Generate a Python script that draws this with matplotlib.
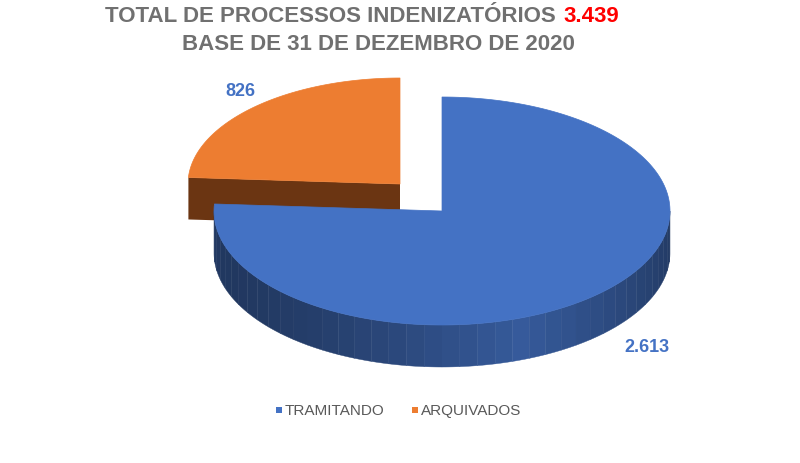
import numpy as np
import matplotlib.pyplot as plt
from matplotlib.patches import Polygon
from matplotlib.colors import to_rgb

plt.rcParams['font.family'] = ['Liberation Sans', 'DejaVu Sans']

categories = ["TRAMITANDO", "ARQUIVADOS"]
values = [2613, 826]
value_labels = ["2.613", "826"]
total_label = "3.439"

top_colors = ["#4472C4", "#ED7D31"]
side_colors = ["#2A4D8F", "#6B3512"]

fig = plt.figure(figsize=(8, 4.64), dpi=100)
ax = fig.add_axes([0, 0, 1, 1])
ax.set_xlim(0, 800)
ax.set_ylim(464, 0)
ax.axis("off")

depth = 42
total = sum(values)
orange_span = 360 * values[1] / total


def pt(c, rx, ry, t, dy=0):
    r = np.radians(t)
    return (c[0] + rx * np.cos(r), c[1] - ry * np.sin(r) + dy)


def wedge(c, rx, ry, t0, t1, top, side, radial_faces):
    for t in radial_faces:
        p = pt(c, rx, ry, t)
        ax.add_patch(Polygon([c, p, (p[0], p[1] + depth), (c[0], c[1] + depth)],
                             closed=True, fc=side, ec="none"))
    a0, a1 = max(t0, 180), min(t1, 360)
    if a1 > a0:
        n = 40
        for i in range(n):
            s0 = a0 + (a1 - a0) * i / n
            s1 = a0 + (a1 - a0) * (i + 1) / n
            ss = np.linspace(s0, s1, 6)
            shade = 0.35 + 0.5 * abs(np.cos(np.radians((s0 + s1) / 2 - 200)))
            col = np.array(to_rgb(top)) * (1 - shade * 0.6)
            poly = [pt(c, rx, ry, t) for t in ss] + [pt(c, rx, ry, t, depth) for t in ss[::-1]]
            ax.add_patch(Polygon(poly, closed=True, fc=col, ec=col, lw=0.3))
    ts = np.linspace(t0, t1, 200)
    ax.add_patch(Polygon([c] + [pt(c, rx, ry, t) for t in ts], closed=True, fc=top,
                         ec=top, lw=0.5))


# orange slice (exploded up-left)
wedge((400, 185), 212, 106, 90, 90 + orange_span, top_colors[1], side_colors[1],
      [90 + orange_span])
# blue slice (exploded down-right)
wedge((442, 212), 228, 114, 90 + orange_span, 450, top_colors[0], side_colors[0], [])

ax.text(240, 91, value_labels[1], color=top_colors[0], fontsize=13, fontweight="bold",
        ha="center", va="center")
ax.text(647, 348, value_labels[0], color=top_colors[0], fontsize=13, fontweight="bold",
        ha="center", va="center")

ax.text(562, 17, "TOTAL DE PROCESSOS INDENIZATÓRIOS ", color="#707070", fontsize=16,
        fontweight="bold", ha="right", va="center")
ax.text(563, 17, total_label, color="#FF0000", fontsize=16, fontweight="bold",
        ha="left", va="center")
ax.text(378, 45, "BASE DE 31 DE DEZEMBRO DE 2020", color="#707070", fontsize=16,
        fontweight="bold", ha="center", va="center")

leg_x = [276, 412]
for x, lab, col in zip(leg_x, categories, top_colors):
    ax.add_patch(Polygon([(x, 408), (x + 6, 408), (x + 6, 414), (x, 414)], fc=col, ec="none"))
    ax.text(x + 9, 411, lab, color="#595959", fontsize=11, ha="left", va="center")

fig.savefig("out.png", dpi=100)
